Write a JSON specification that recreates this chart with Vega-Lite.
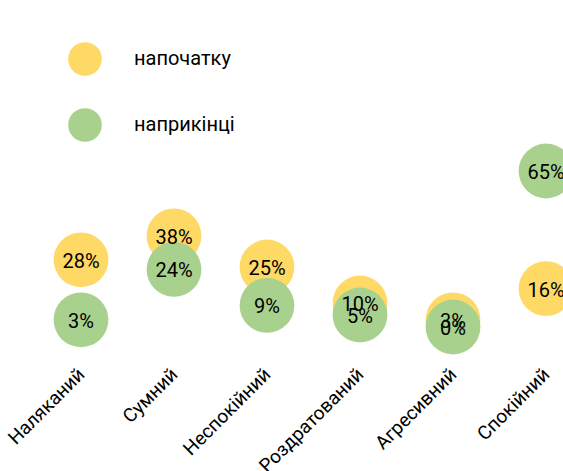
{
  "$schema": "https://vega.github.io/schema/vega-lite/v6.json",
  "width": 465,
  "height": 240,
  "autosize": {"type": "none"},
  "padding": {"left": 81, "top": 87, "right": 17, "bottom": 144},
  "background": "white",
  "config": {
    "view": {"stroke": null},
    "font": "Roboto"
  },
  "data": {
    "values": [
      {"emotion": "Наляканий", "period": "напочатку", "value": 0.28},
      {"emotion": "Сумний", "period": "напочатку", "value": 0.38},
      {"emotion": "Неспокійний", "period": "напочатку", "value": 0.25},
      {"emotion": "Роздратований", "period": "напочатку", "value": 0.10},
      {"emotion": "Агресивний", "period": "напочатку", "value": 0.03},
      {"emotion": "Спокійний", "period": "напочатку", "value": 0.16},
      {"emotion": "Наляканий", "period": "наприкінці", "value": 0.03},
      {"emotion": "Сумний", "period": "наприкінці", "value": 0.24},
      {"emotion": "Неспокійний", "period": "наприкінці", "value": 0.09},
      {"emotion": "Роздратований", "period": "наприкінці", "value": 0.05},
      {"emotion": "Агресивний", "period": "наприкінці", "value": 0.00},
      {"emotion": "Спокійний", "period": "наприкінці", "value": 0.65}
    ]
  },
  "encoding": {
    "x": {
      "field": "emotion",
      "type": "nominal",
      "sort": null,
      "scale": {"type": "point", "padding": 0},
      "axis": {
        "title": null,
        "domain": false,
        "ticks": false,
        "labelAngle": -45,
        "labelAlign": "right",
        "labelBaseline": "middle",
        "labelFontSize": 19,
        "labelColor": "#000000",
        "labelFont": "Roboto",
        "labelPadding": 0,
        "labelOverlap": false,
        "offset": 44
      }
    },
    "y": {
      "field": "value",
      "type": "quantitative",
      "scale": {"domain": [0, 1]},
      "axis": null
    }
  },
  "layer": [
    {
      "mark": {"type": "circle", "opacity": 1, "size": 3000},
      "encoding": {
        "color": {
          "field": "period",
          "type": "nominal",
          "sort": ["напочатку", "наприкінці"],
          "scale": {"domain": ["напочатку", "наприкінці"], "range": ["#FFD966", "#A9D18E"]},
          "legend": {
            "title": null,
            "orient": "none",
            "legendX": -13,
            "legendY": -45,
            "symbolSize": 1134,
            "symbolType": "circle",
            "symbolOpacity": 1,
            "symbolStrokeWidth": 0,
            "labelFontSize": 20,
            "labelColor": "#000000",
            "labelOffset": 32,
            "rowPadding": 32,
            "labelFont": "Roboto"
          }
        }
      }
    },
    {
      "mark": {"type": "text", "fontSize": 20, "color": "#000000", "baseline": "middle", "dy": 2},
      "encoding": {
        "text": {"field": "value", "type": "quantitative", "format": ".0%"}
      }
    }
  ]
}
